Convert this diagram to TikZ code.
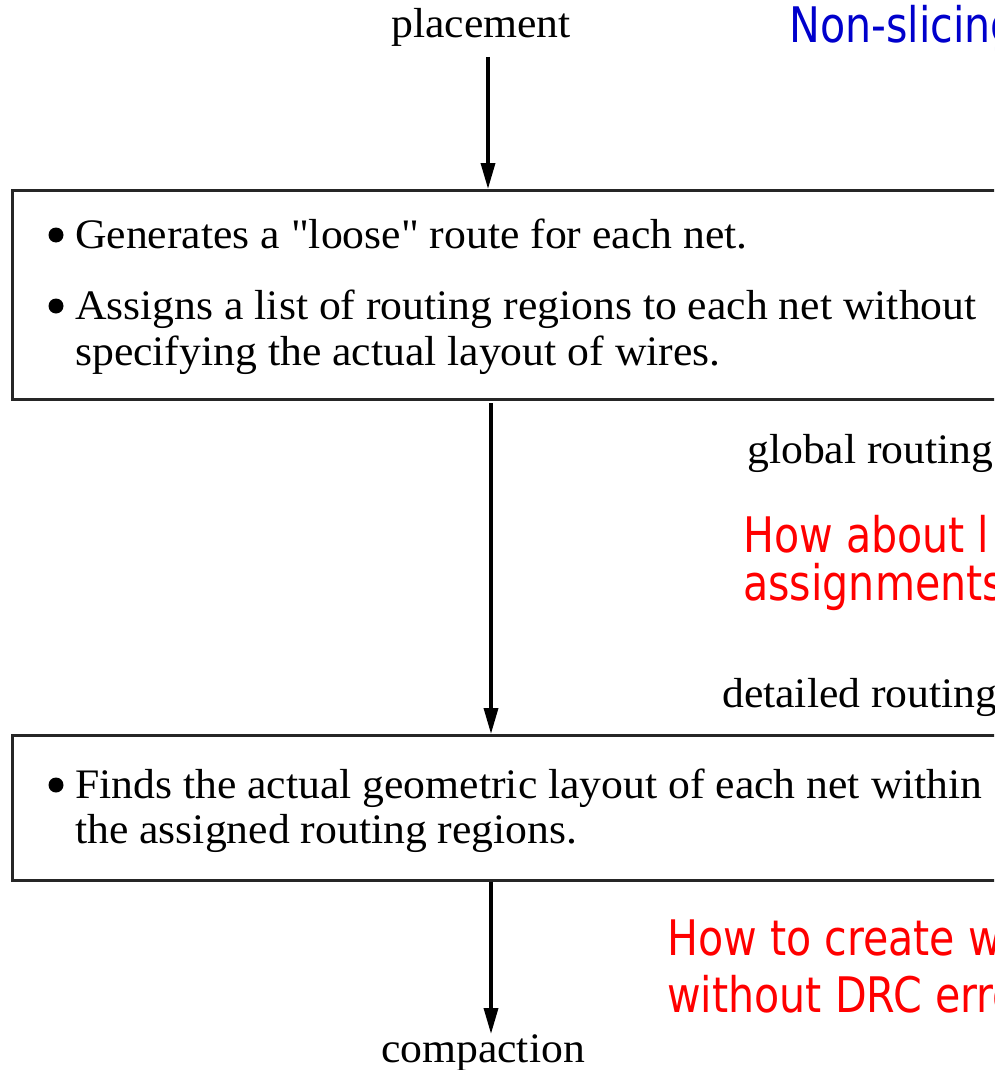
\documentclass[tikz,border=0pt]{standalone}
\usepackage{fontspec}
\usepackage{graphicx}
\setmainfont{Liberation Serif}[Ligatures=TeXOff]
\newfontfamily\notefont{DejaVu Sans}
\usetikzlibrary{arrows.meta}
\definecolor{notered}{RGB}{255,0,0}
\definecolor{noteblue}{RGB}{0,0,204}
% slightly widened serif lines, narrowed sans notes
\newcommand\serifline[1]{\scalebox{1.04}[1]{#1}}
\newcommand\noteline[1]{\scalebox{0.84}[1]{#1}}

\begin{document}
\begin{tikzpicture}[x=1pt,y=-1pt,
  stage/.style={draw=black!85, line width=2.5pt, anchor=north west, inner sep=0pt},
  flow/.style={line width=3.5pt, -{Triangle[length=26pt,width=14pt]}},
  lbl/.style={font=\fontsize{42}{46}\selectfont, inner sep=0pt},
  item/.style={lbl, anchor=base west},
  dot/.style={circle, fill, inner sep=0pt, minimum size=15pt},
  note/.style={anchor=base west, inner sep=0pt, font=\notefont\fontsize{49}{48}\selectfont},
]
\useasboundingbox (0,0) rectangle (994,1070);
\clip (0,0) rectangle (994,1070);

% stage boxes
\node[stage, minimum width=1000pt, minimum height=209pt] (gbox) at (11,189) {};
\node[stage, minimum width=1000pt, minimum height=145pt] (dbox) at (11,734) {};

% flow labels
\node[lbl, anchor=base] (placement) at (481,38) {\serifline{placement}};
\node[lbl, anchor=base] (compaction) at (483,1062) {\serifline{compaction}};
\node[lbl, anchor=base west] (global) at (747,463) {\serifline{global routing}};
\node[lbl, anchor=base west] (detailed) at (722,707) {\serifline{detailed routing}};

% global routing box contents
\node[dot] (b1) at (56,235) {};
\node[item] (g1) at (75,248) {\serifline{Generates a "loose" route for each net.}};
\node[dot] (b2) at (56,306) {};
\node[item] (g2a) at (75,319) {\serifline{Assigns a list of routing regions to each net without}};
\node[item] (g2b) at (75,365) {\serifline{specifying the actual layout of wires.}};

% detailed routing box contents
\node[dot] (b3) at (56,785) {};
\node[item] (d1a) at (75,798) {\serifline{Finds the actual geometric layout of each net within}};
\node[item] (d1b) at (75,843) {\serifline{the assigned routing regions.}};

% arrows
\coordinate (p0) at (488,57);
\coordinate (g0) at (491,403);
\draw[flow] (p0) -- (p0 |- gbox.north);
\draw[flow] (g0) -- (g0 |- dbox.north);
\draw[flow] (g0 |- dbox.south) -- (g0 |- compaction.north);

% side notes
\node[note, text=noteblue] (nonslicing) at (789,43) {\noteline{Non-slicing}};
\node[note, text=notered] (layer1) at (743,552) {\noteline{How about l}};
\node[note, text=notered] (layer2) at (743,600) {\noteline{assignments}};
\node[note, text=notered] (drc1) at (667,955) {\noteline{How to create w}};
\node[note, text=notered] (drc2) at (667,1012) {\noteline{without DRC errors}};
\end{tikzpicture}
\end{document}
